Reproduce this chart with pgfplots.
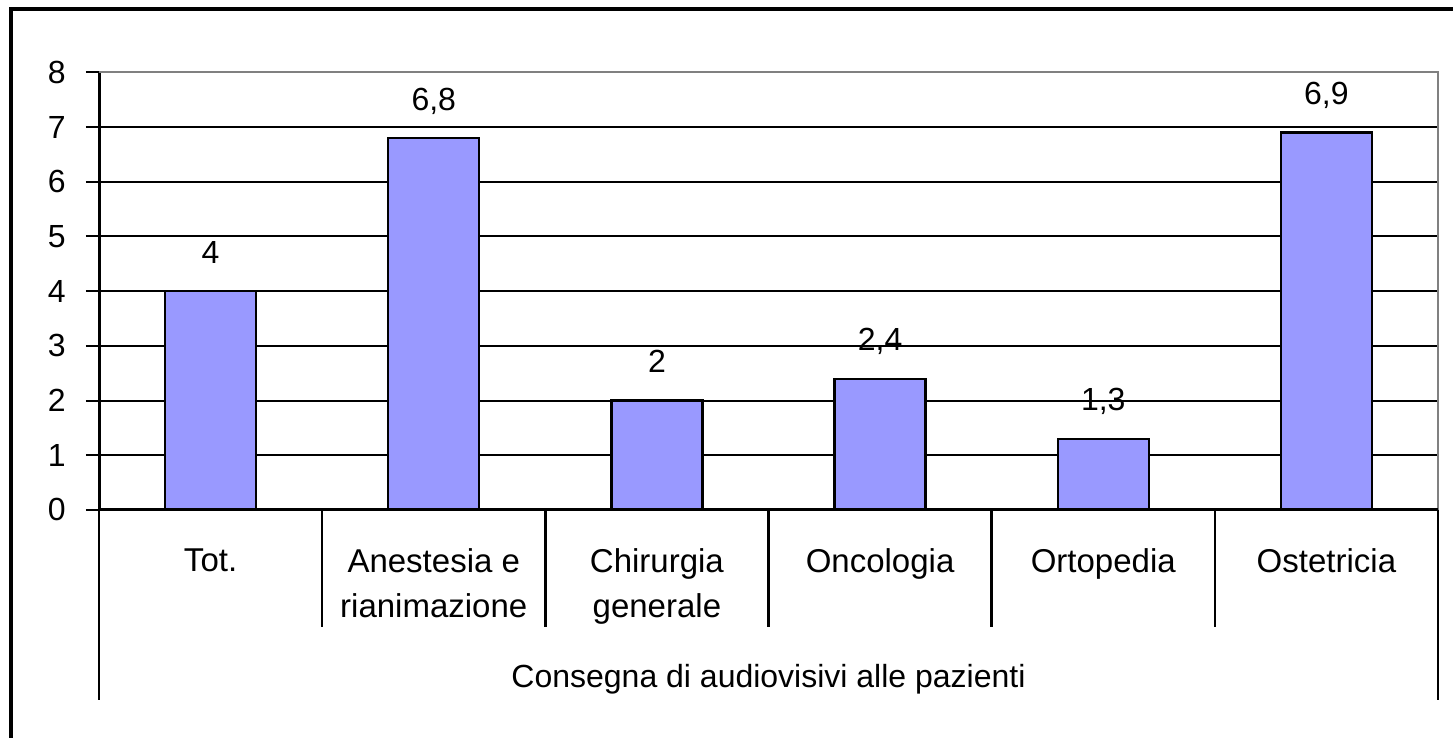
\documentclass[border=0pt]{standalone}
\usepackage{fontspec}
\setmainfont{Liberation Sans}
\usepackage{pgfplots}
\pgfplotsset{compat=1.18}
\definecolor{barblue}{HTML}{9999FF}
\definecolor{framegray}{HTML}{808080}
\begin{document}
\begin{tikzpicture}
\useasboundingbox (0,0) rectangle (726.5pt,369pt);
\draw[line width=2pt] (5.25pt,-5pt) -- (5.25pt,364.5pt) -- (735pt,364.5pt);
\begin{axis}[
  at={(49.5pt,114pt)}, anchor=south west,
  scale only axis, width=669.5pt, height=218.8pt,
  xmin=-0.5, xmax=5.5, ymin=0, ymax=8,
  xtick={0,...,5},
  xticklabels={Tot.,{Anestesia e\\rianimazione},{Chirurgia\\generale},Oncologia,Ortopedia,Ostetricia},
  xtick style={draw=none},
  xticklabel style={align=center, font=\fontsize{16.5}{22.8}\selectfont, anchor=north, inner sep=0pt, yshift=-12.5pt},
  ytick={0,...,8},
  ytick align=outside,
  major tick length=6.5pt,
  ytick style={black, line width=1pt},
  yticklabel style={font=\fontsize{16}{19}\selectfont, anchor=base east, inner sep=0pt, xshift=-10pt, yshift=-5.5pt},
  /pgf/number format/assume math mode=true,
  ymajorgrids, grid style={black, line width=1pt},
  axis x line*=bottom, axis y line*=left,
  axis line style={black, line width=1.5pt, -},
  clip=false,
  ybar, bar width=45.5pt,
  point meta=explicit symbolic,
  nodes near coords,
  nodes near coords style={font=\fontsize{16}{19}\selectfont, anchor=base, inner sep=0pt, yshift=14pt},
]
\addplot[fill=barblue, draw=black, line width=1.2pt] coordinates {
  (0,4)[4] (1,6.8)[{6,8}] (2,2)[2] (3,2.4)[{2,4}] (4,1.3)[{1,3}] (5,6.9)[{6,9}]
};
\draw[framegray, line width=1pt] (rel axis cs:0,1) -- (rel axis cs:1,1) -- (rel axis cs:1,0);
\draw[black, line width=1.2pt] (axis cs:0.5,0) -- (axis cs:0.5,-2.139);
\draw[black, line width=1.2pt] (axis cs:1.5,0) -- (axis cs:1.5,-2.139);
\draw[black, line width=1.2pt] (axis cs:2.5,0) -- (axis cs:2.5,-2.139);
\draw[black, line width=1.2pt] (axis cs:3.5,0) -- (axis cs:3.5,-2.139);
\draw[black, line width=1.2pt] (axis cs:4.5,0) -- (axis cs:4.5,-2.139);
\draw[black, line width=1.2pt] (axis cs:-0.5,0) -- (axis cs:-0.5,-3.474);
\draw[black, line width=1.2pt] (axis cs:5.5,0) -- (axis cs:5.5,-3.474);
\draw[black, line width=1.5pt] (axis cs:-0.5,0) -- (axis cs:5.5,0);
\node[anchor=base, inner sep=0pt, font=\fontsize{16}{19}\selectfont] at (axis cs:2.5,-3.236) {Consegna di audiovisivi alle pazienti};
\end{axis}
\end{tikzpicture}
\end{document}
